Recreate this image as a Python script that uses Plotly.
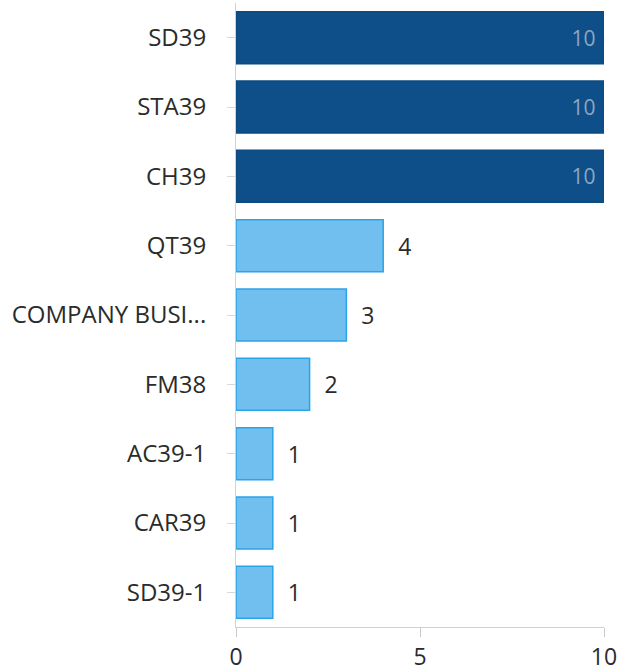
import plotly.graph_objects as go

categories = ["SD39", "STA39", "CH39", "QT39", "COMPANY BUSI...", "FM38", "AC39-1", "CAR39", "SD39-1"]
values = [10, 10, 10, 4, 3, 2, 1, 1, 1]

dark = "#0f4f89"
light = "#71bfef"
cats = categories[::-1]
vals = values[::-1]
colors = [dark if v == 10 else light for v in vals]
lines = ["#0d4a80" if v == 10 else "#2aa3ea" for v in vals]
textcolors = ["#8ea6be" if v == 10 else "#2b2b2b" for v in vals]
textpos = ["inside" if v == 10 else "outside" for v in vals]
texts = [(str(v) + "\u00a0") if v == 10 else ("\u00a0\u00a0" + str(v)) for v in vals]
textsizes = [21 if v == 10 else 23 for v in vals]

fig = go.Figure(go.Bar(
    y=cats, x=vals, orientation="h",
    marker=dict(color=colors, line=dict(color=lines, width=1.5)),
    text=texts, textposition=textpos,
    insidetextanchor="end",
    textfont=dict(color=textcolors, size=textsizes, family="Open Sans"),
    cliponaxis=False, hoverinfo="skip",
))
fig.update_layout(
    width=619, height=671,
    margin=dict(l=236, r=15, t=3, b=44, autoexpand=False),
    plot_bgcolor="white", paper_bgcolor="white",
    bargap=0.25, showlegend=False,
    font=dict(family="Open Sans", size=24, color="#2b2b2b"),
    xaxis=dict(range=[0, 10], tickvals=[0, 5, 10], showgrid=False, zeroline=False,
               showline=True, linecolor="#d0d0d0", linewidth=1,
               ticks="outside", ticklen=9, tickcolor="#c8c8c8",
               tickfont=dict(size=23, color="#2b2b2b")),
    yaxis=dict(showgrid=False, showline=True, linecolor="#e6c9cf", linewidth=1,
               ticks="outside", ticklen=8, tickcolor="#d8d8d8",
               ticklabelstandoff=16, automargin=False,
               tickfont=dict(size=24, color="#2b2b2b")),
)
fig.write_html("out.html", config={"displayModeBar": False},
               post_script="document.body.style.margin='0';")
